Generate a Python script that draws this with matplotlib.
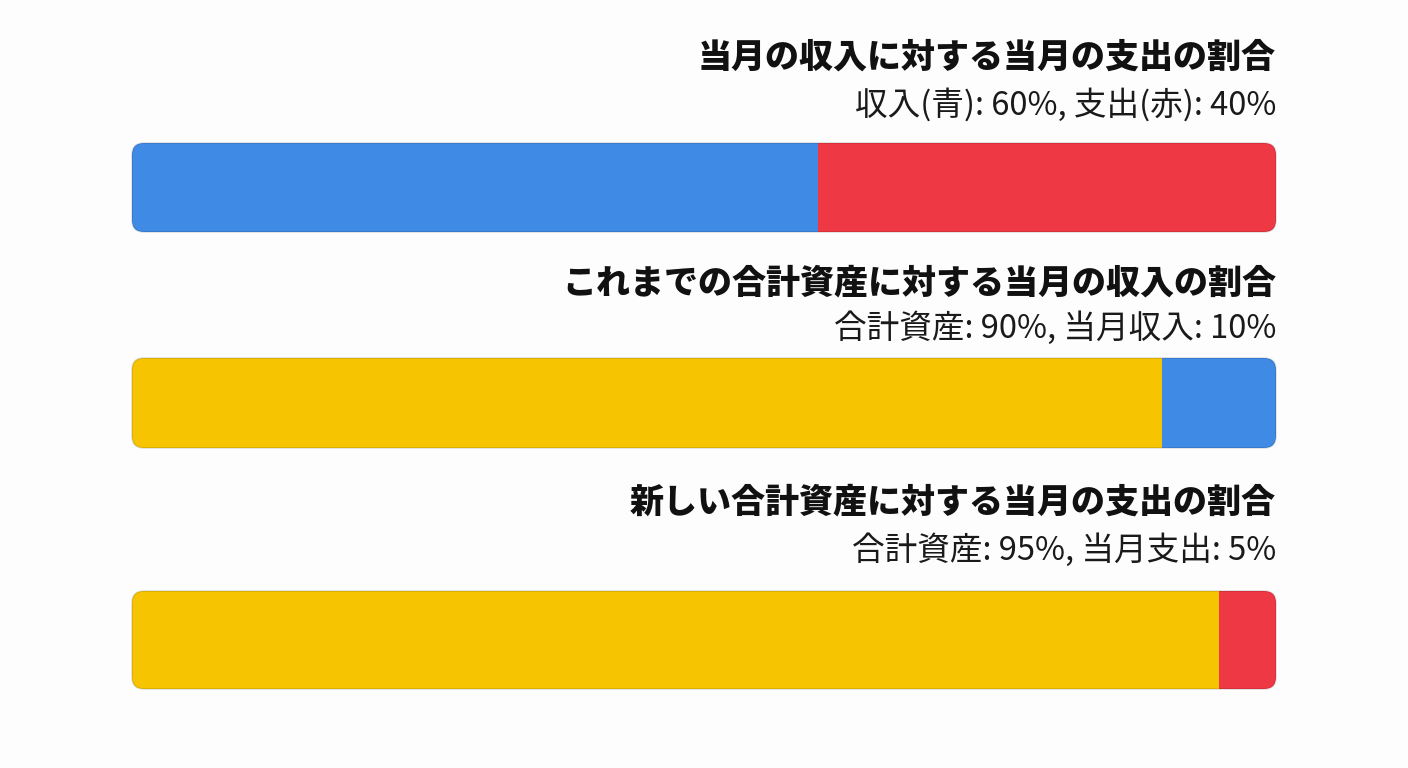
import matplotlib
matplotlib.use("Agg")
import matplotlib.pyplot as plt
from matplotlib.patches import FancyBboxPatch

plt.rcParams['font.family'] = ['Noto Sans CJK JP', 'DejaVu Sans']

# chart data
titles = [
    "当月の収入に対する当月の支出の割合",
    "これまでの合計資産に対する当月の収入の割合",
    "新しい合計資産に対する当月の支出の割合",
]
subtitles = [
    "収入(青): 60%, 支出(赤): 40%",
    "合計資産: 90%, 当月収入: 10%",
    "合計資産: 95%, 当月支出: 5%",
]
seg_values = [
    [60, 40],
    [90, 10],
    [95, 5],
]
seg_colors = [
    ["#3F8AE4", "#EE3843"],
    ["#F6C400", "#3F8AE4"],
    ["#F6C400", "#EE3843"],
]

W, H = 1408, 768
fig = plt.figure(figsize=(W / 100, H / 100), dpi=100)
fig.patch.set_facecolor("#FDFDFD")

# pixel layout: bar boxes (top, bottom) and text centres
x0, x1 = 132, 1276
bar_boxes = [(143, 232), (358, 448), (591, 689)]
title_y = [57, 283, 502]
sub_y = [105, 328, 550]
radius = 12

for i in range(3):
    top, bot = bar_boxes[i]
    ax = fig.add_axes([x0 / W, 1 - bot / H, (x1 - x0) / W, (bot - top) / H])
    ax.set_xlim(0, 100)
    ax.set_ylim(0, 1)
    ax.axis("off")

    w_px, h_px = x1 - x0, bot - top
    r = radius / w_px
    clip = FancyBboxPatch((0, 0), 1, 1, boxstyle=f"round,pad=0,rounding_size={r}",
                          mutation_aspect=w_px / h_px, transform=ax.transAxes,
                          facecolor="none", edgecolor="none")
    ax.add_patch(clip)

    left = 0
    for v, c in zip(seg_values[i], seg_colors[i]):
        bars = ax.barh(0.5, v, left=left, height=1, color=c, edgecolor="none")
        for b in bars:
            b.set_clip_path(clip)
        left += v

    outline = FancyBboxPatch((0, 0), 1, 1, boxstyle=f"round,pad=0,rounding_size={r}",
                             mutation_aspect=w_px / h_px, transform=ax.transAxes,
                             facecolor="none", edgecolor=(0, 0, 0, 0.12), lw=1.2,
                             clip_on=False)
    ax.add_patch(outline)

    fig.text(x1 / W, 1 - title_y[i] / H, titles[i], ha="right", va="center",
             fontsize=24.5, fontweight="heavy", color="#111111")
    fig.text(x1 / W, 1 - sub_y[i] / H, subtitles[i], ha="right", va="center",
             fontsize=23.5, color="#1a1a1a")

fig.savefig("out.png", dpi=100, facecolor=fig.get_facecolor())
